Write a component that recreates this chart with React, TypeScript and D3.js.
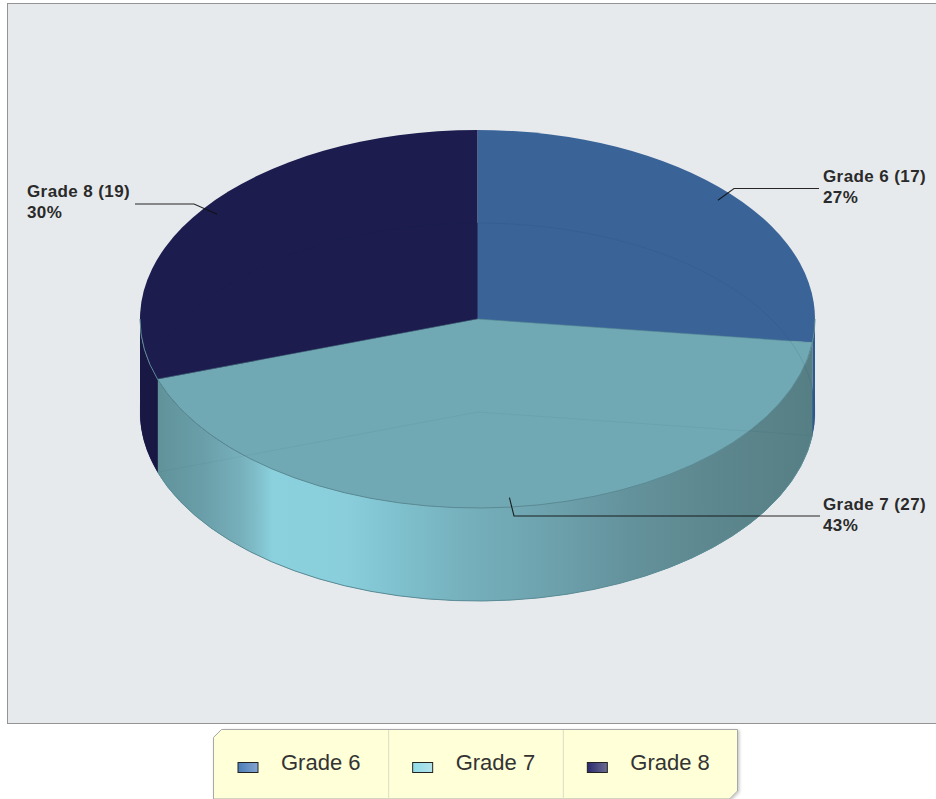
import React from "react";
import * as d3 from "d3";

const categories = ["Grade 6", "Grade 7", "Grade 8"];
const counts = [17, 27, 19];
const percentLabels = ["27%", "43%", "30%"];
const topColors = ["#3a6498", "#70a8b4", "#1c1c4e"];
const sideColors = ["#2f5a8c", "url(#wall)", "#191844"];
const swatchFrom = ["#4a7db8", "#8fdce8", "#2a2a6e"];
const swatchTo = ["#84a4cf", "#b4e2ea", "#6c6c92"];
const wallStops: [number, string][] = [
  [0, "#60929a"], [0.07, "#6a9fa9"], [0.125, "#76afba"], [0.15, "#7fbdc9"], [0.175, "#8ad0dd"], [0.29, "#8acedb"],
  [0.36, "#80c2cf"], [0.47, "#75b0bc"], [0.6, "#6da2ad"], [0.72, "#64929c"], [0.85, "#5d878e"], [1, "#567f85"],
];

const W = 936, H = 799;
const cx = 477.5, cy = 319, rx = 337.5, ry = 189, depth = 93;
const FONT = "'Liberation Sans', Arial, sans-serif";

const slices = d3.pie<number>().sort(null).startAngle(0).endAngle(2 * Math.PI)(counts);
const pt = (t: number, r = 1, dy = 0): [number, number] => [cx + r * rx * Math.sin(t), cy + dy - r * ry * Math.cos(t)];
const f = (p: [number, number]) => `${p[0].toFixed(2)} ${p[1].toFixed(2)}`;

function sector(a0: number, a1: number, dy: number) {
  const large = a1 - a0 > Math.PI ? 1 : 0;
  return `M${f([cx, cy + dy])}L${f(pt(a0, 1, dy))}A${rx} ${ry} 0 ${large} 1 ${f(pt(a1, 1, dy))}Z`;
}
function wall(a0: number, a1: number) {
  const s = Math.max(a0, Math.PI / 2), e = Math.min(a1, 1.5 * Math.PI);
  if (s >= e) return "";
  return `M${f(pt(s))}A${rx} ${ry} 0 0 1 ${f(pt(e))}L${f(pt(e, 1, depth))}A${rx} ${ry} 0 0 0 ${f(pt(s, 1, depth))}Z`;
}
function edge(a0: number, a1: number, dy: number) {
  const s = Math.max(a0, Math.PI / 2), e = Math.min(a1, 1.5 * Math.PI);
  if (s >= e) return "";
  return `M${f(pt(s, 1, dy))}A${rx} ${ry} 0 0 1 ${f(pt(e, 1, dy))}`;
}
function rim(a0: number, a1: number, dy: number) {
  const large = a1 - a0 > Math.PI ? 1 : 0;
  return `M${f(pt(a0, 1, dy))}A${rx} ${ry} 0 ${large} 1 ${f(pt(a1, 1, dy))}`;
}

// label layout: text position and elbow of the leader line
const labelX = [823, 823, 27];
const labelY = [182, 510, 197];
const elbowX = [734, 514, 194];
const elbowY = [188.5, 516, 204];
const leaderEndX = [819, 820, 135];

const legendX = d3.scaleBand<string>().domain(categories).range([213.5, 737.5]);

export default function App() {
  return (
    <svg width={W} height={H} style={{ position: "absolute", left: 0, top: 0 }} fontFamily={FONT}>
      <defs>
        <linearGradient id="wall" gradientUnits="userSpaceOnUse" x1={pt(slices[1].endAngle)[0]} x2={pt(slices[1].startAngle)[0]} y1={0} y2={0}>
          {wallStops.map(([o, c], i) => <stop key={i} offset={o} stopColor={c} />)}
        </linearGradient>
        {categories.map((c, i) => (
          <linearGradient key={c} id={`sw${i}`} x1="0" x2="1" y1="0" y2="0">
            <stop offset="0" stopColor={swatchFrom[i]} />
            <stop offset="1" stopColor={swatchTo[i]} />
          </linearGradient>
        ))}
        <filter id="ls" x="-5%" y="-10%" width="110%" height="120%">
          <feDropShadow dx="1.5" dy="1" stdDeviation="1.5" floodColor="#000" floodOpacity="0.22" />
        </filter>
      </defs>

      <rect x={7.5} y={3.5} width={H + 200} height={720} fill="#e7eaed" stroke="#949494" strokeWidth={1} />

      {/* cylinder body */}
      {slices.map((s, i) => <path key={i} d={sector(s.startAngle, s.endAngle, depth)} fill={sideColors[i] === "url(#wall)" ? "#5f8f98" : sideColors[i]} />)}
      {slices.map((s, i) => <path key={i} d={wall(s.startAngle, s.endAngle)} fill={sideColors[i]} />)}
      {slices.map((s, i) => <path key={i} d={edge(s.startAngle, s.endAngle, depth)} fill="none" stroke={i === 1 ? "#5f929b" : "none"} strokeWidth={1} />)}

      {/* top face */}
      {slices.map((s, i) => <path key={i} d={sector(s.startAngle, s.endAngle, 0)} fill={topColors[i]} />)}
      <path d={`M${f(pt(slices[1].startAngle))}L${f([cx, cy])}L${f(pt(slices[1].endAngle))}`} fill="none" stroke="#5a8c94" strokeOpacity={0.7} strokeWidth={0.8} />
      {slices.map((s, i) => <path key={i} d={edge(s.startAngle, s.endAngle, 0)} fill="none" stroke="#5b8b94" strokeWidth={1} />)}

      {/* the base seen faintly through the translucent body */}
      {slices.map((s, i) => <path key={i} d={rim(s.startAngle, s.endAngle, depth)} fill="none" stroke="#16244a" strokeOpacity={i === 1 ? 0.05 : 0.1} strokeWidth={1} />)}
      <path d={`M${f(pt(slices[1].startAngle, 1, depth))}L${f([cx, cy + depth])}L${f(pt(slices[1].endAngle, 1, depth))}`} fill="none" stroke="#16344a" strokeOpacity={0.05} strokeWidth={1} />

      {/* leader lines */}
      {slices.map((s, i) => {
        const mid = (s.startAngle + s.endAngle) / 2;
        const a = pt(mid, 0.95);
        return (
          <polyline key={i} points={`${a[0]},${a[1]} ${elbowX[i]},${elbowY[i]} ${leaderEndX[i]},${elbowY[i]}`} fill="none" stroke="#111" strokeOpacity={0.9} strokeWidth={1.1} />
        );
      })}

      {/* data labels */}
      {categories.map((c, i) => (
        <text key={c} x={labelX[i]} y={labelY[i]} fontSize={17} fontWeight={700} fill="#2a2a2a" letterSpacing={0.4}>
          <tspan x={labelX[i]}>{`${c} (${counts[i]})`}</tspan>
          <tspan x={labelX[i]} dy={21}>{percentLabels[i]}</tspan>
        </text>
      ))}

      {/* legend */}
      <path d={`M221.5 729.5H737.5V791L729.5 799H213.5V737.5Z`} fill="#ffffd8" stroke="#a8a8a8" strokeWidth={1} filter="url(#ls)" />
      {categories.map((c, i) => {
        const x = legendX(c)!;
        return (
          <g key={c}>
            {i > 0 && <line x1={x + 0.5} x2={x + 0.5} y1={730} y2={799} stroke="#dcdcc6" />}
            <rect x={x + 24.5} y={762.5} width={20} height={10} fill={`url(#sw${i})`} stroke="#222" strokeWidth={1} />
            <text x={x + 67.5} y={770} fontSize={22} fill="#333">{c}</text>
          </g>
        );
      })}
    </svg>
  );
}
